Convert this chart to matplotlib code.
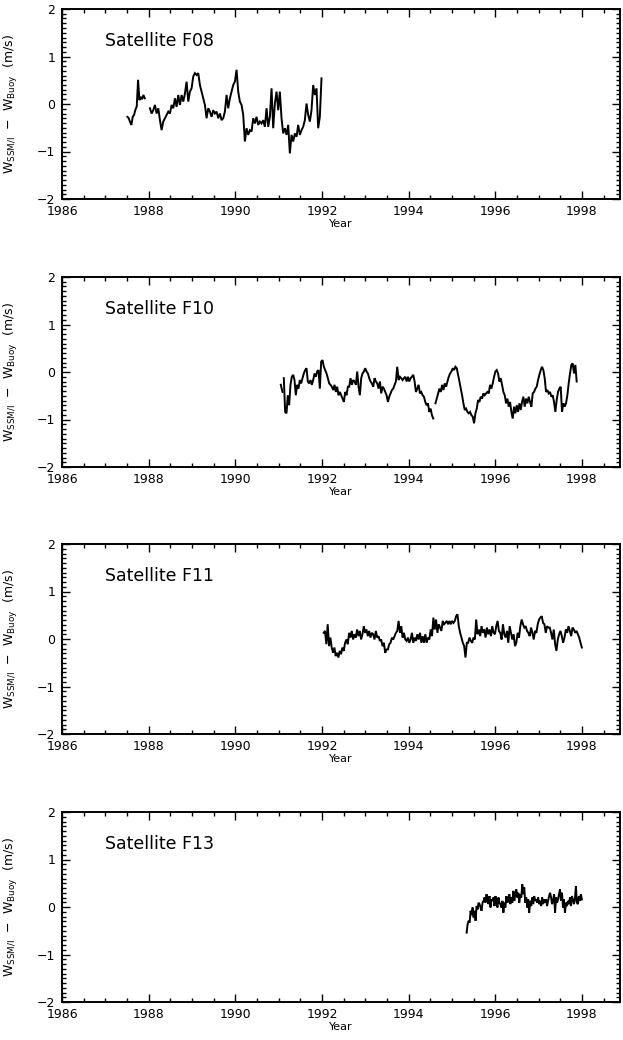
import numpy as np
import matplotlib
matplotlib.use("Agg")
import matplotlib.pyplot as plt
from matplotlib.ticker import MultipleLocator

## data: SSM/I minus buoy wind speed (m/s)
# each segment = (first year, last year) + evenly spaced samples
f08_a_span = (1987.51, 1987.91)
f08_a = [-0.27, -0.30, -0.38, -0.44, -0.27, -0.23, -0.12, -0.05, 0.51, 0.08, 0.15, 0.10, 0.19, 0.12]

f08_b_span = (1988.03, 1991.99)
f08_b = [-0.09, -0.20, -0.13, -0.02, -0.20, -0.09, -0.34, -0.55, -0.37, -0.30,
         -0.23, -0.16, -0.20, -0.02, -0.09, 0.12, -0.06, 0.19, -0.02, 0.19,
         0.05, 0.22, 0.47, 0.05, 0.26, 0.33, 0.58, 0.65, 0.61, 0.65,
         0.40, 0.26, 0.12, -0.02, -0.30, -0.09, -0.16, -0.27, -0.13, -0.20,
         -0.16, -0.30, -0.20, -0.34, -0.30, -0.16, 0.19, -0.09, 0.12, 0.26,
         0.40, 0.47, 0.72, 0.26, 0.05, -0.02, -0.23, -0.79, -0.51, -0.65,
         -0.55, -0.58, -0.30, -0.41, -0.27, -0.44, -0.37, -0.41, -0.34, -0.48,
         -0.09, -0.48, -0.27, 0.33, -0.51, 0.01, 0.26, -0.13, 0.26, -0.30,
         -0.62, -0.51, -0.65, -0.44, -1.04, -0.65, -0.79, -0.62, -0.69, -0.44,
         -0.65, -0.55, -0.48, -0.34, 0.01, -0.23, -0.37, -0.13, 0.40, 0.19,
         0.33, -0.51, -0.27, 0.54]

f10_a_span = (1991.05, 1991.09)
f10_a = [-0.27, -0.42]

f10_b_span = (1991.12, 1994.57)
f10_b = [-0.13, -0.84, -0.87, -0.49, -0.70, -0.27, -0.10, -0.06, -0.17, -0.49,
         -0.27, -0.35, -0.17, -0.24, -0.13, -0.03, 0.04, 0.08, -0.20, -0.24,
         -0.17, -0.27, -0.17, -0.03, -0.10, 0.01, 0.04, -0.35, 0.22, 0.25,
         0.11, 0.04, -0.03, -0.13, -0.24, -0.27, -0.31, -0.38, -0.27, -0.42,
         -0.31, -0.49, -0.42, -0.49, -0.56, -0.63, -0.42, -0.49, -0.31, -0.31,
         -0.13, -0.27, -0.17, -0.20, -0.27, 0.01, -0.31, -0.49, -0.13, -0.03,
         0.01, 0.08, 0.01, -0.03, -0.13, -0.20, -0.24, -0.31, -0.13, -0.20,
         -0.24, -0.35, -0.20, -0.45, -0.31, -0.35, -0.42, -0.49, -0.63, -0.52,
         -0.45, -0.38, -0.35, -0.27, -0.20, 0.11, -0.17, -0.10, -0.13, -0.17,
         -0.13, -0.10, -0.20, -0.10, -0.20, -0.13, -0.10, -0.06, -0.20, -0.42,
         -0.35, -0.27, -0.45, -0.42, -0.49, -0.52, -0.63, -0.70, -0.66, -0.84,
         -0.77, -0.91, -0.98]

f10_c_span = (1994.62, 1997.88)
f10_c = [-0.66, -0.56, -0.45, -0.35, -0.42, -0.27, -0.38, -0.24, -0.31, -0.20,
         -0.10, -0.03, 0.01, 0.08, 0.04, 0.11, 0.08, -0.06, -0.20, -0.35,
         -0.49, -0.66, -0.80, -0.77, -0.84, -0.87, -0.84, -0.91, -0.94, -1.08,
         -0.87, -0.77, -0.59, -0.63, -0.52, -0.56, -0.45, -0.49, -0.45, -0.42,
         -0.45, -0.27, -0.35, -0.24, -0.10, 0.01, 0.04, -0.03, -0.20, -0.13,
         -0.27, -0.42, -0.49, -0.66, -0.56, -0.73, -0.63, -0.84, -0.98, -0.73,
         -0.87, -0.70, -0.84, -0.66, -0.80, -0.63, -0.52, -0.73, -0.56, -0.66,
         -0.52, -0.63, -0.73, -0.45, -0.42, -0.35, -0.31, -0.17, -0.06, 0.04,
         0.11, 0.04, -0.13, -0.42, -0.38, -0.45, -0.42, -0.52, -0.49, -0.63,
         -0.84, -0.59, -0.42, -0.35, -0.31, -0.84, -0.66, -0.73, -0.66, -0.49,
         -0.24, -0.03, 0.15, 0.18, -0.03, 0.15, -0.20]

f11_span = (1992.04, 1998.00)
f11 = [0.13, 0.17, -0.11, 0.31, -0.15, 0.03, -0.18, -0.29, -0.18, -0.36,
       -0.29, -0.39, -0.25, -0.32, -0.18, -0.25, -0.08, -0.01, -0.11, 0.13,
       0.03, 0.17, -0.01, 0.10, 0.03, 0.20, 0.06, 0.17, -0.01, 0.10,
       0.27, 0.13, 0.20, 0.06, 0.17, 0.03, 0.13, 0.10, -0.01, 0.17,
       0.03, 0.06, -0.04, -0.01, -0.15, -0.08, -0.29, -0.22, -0.22, -0.11,
       -0.08, 0.03, -0.01, 0.06, 0.13, 0.17, 0.38, 0.13, 0.27, 0.03,
       0.13, -0.01, -0.04, 0.03, -0.08, -0.01, 0.13, -0.08, 0.03, -0.04,
       0.10, -0.01, 0.13, -0.08, 0.06, -0.08, 0.10, -0.08, 0.03, -0.01,
       0.20, 0.06, 0.45, 0.20, 0.41, 0.13, 0.31, 0.24, 0.17, 0.38,
       0.31, 0.34, 0.38, 0.31, 0.38,
       0.31, 0.38, 0.34, 0.38, 0.48, 0.52, 0.27, 0.13, 0.03, -0.08,
       -0.15, -0.39, -0.08, -0.08, 0.03, -0.04, -0.08, 0.03, -0.01, 0.41,
       0.10, 0.20, 0.06, 0.27, 0.13, 0.20, 0.03, 0.24, 0.10, 0.20,
       0.06, 0.27, 0.13, 0.10, 0.27, 0.38, 0.17, 0.13, -0.01, 0.31,
       0.10, 0.03, 0.17, -0.08, 0.27, 0.13, -0.01, 0.10, -0.15, -0.08,
       0.13, 0.03, 0.27, 0.41, 0.31, 0.24, 0.27, 0.17, 0.13, 0.06,
       0.24, 0.13, -0.01, 0.17, 0.13, 0.31, 0.41, 0.45, 0.48, 0.34,
       0.31, 0.13, 0.27, 0.24, 0.24, 0.13, -0.01, 0.20, -0.11, -0.25,
       -0.01, 0.10, 0.17, 0.06, -0.08, 0.03, 0.20, 0.13, 0.27, 0.17,
       0.06, 0.24, 0.20, 0.13, 0.17, 0.10, 0.03, -0.08, -0.18]

f13_span = (1995.34, 1998.00)
f13 = [-0.54, -0.36, -0.29, -0.33, -0.08, -0.17, -0.01, -0.22, -0.08, -0.29,
       0.02, -0.05, 0.09, 0.06, -0.01, -0.08, 0.09, 0.13, 0.20, 0.09,
       0.27, 0.16, 0.06, 0.23, -0.01, 0.16, 0.13, 0.20, 0.02, 0.23,
       0.13, -0.01, 0.20, 0.09, 0.06, -0.01, 0.13, -0.12, 0.09, -0.01,
       0.23, 0.09, 0.16, 0.27, 0.06, 0.20, 0.09, 0.34, 0.13, 0.27,
       0.37, 0.20, 0.30, 0.09, 0.27, 0.20, 0.48, 0.27, 0.41, 0.09,
       0.20, -0.01, 0.16, -0.12, 0.13, 0.02, 0.20, 0.06, 0.23, 0.13,
       0.16, 0.09, 0.20, 0.06, 0.13, 0.02, 0.20, 0.06, 0.16, 0.09,
       0.16, 0.02, 0.13, 0.23, 0.30, 0.20, 0.06, 0.13, 0.27, -0.12,
       0.20, 0.09, 0.16, 0.27, 0.37, 0.13, 0.30, -0.01, 0.16, -0.12,
       0.09, 0.02, 0.13, 0.06, 0.20, 0.02, 0.23, 0.16, 0.06, 0.16,
       0.44, 0.09, 0.06, 0.23, 0.13, 0.27, 0.16]

satellites = ["Satellite F08", "Satellite F10", "Satellite F11", "Satellite F13"]
segments = [
    [(f08_a_span, f08_a), (f08_b_span, f08_b)],
    [(f10_a_span, f10_a), (f10_b_span, f10_b), (f10_c_span, f10_c)],
    [(f11_span, f11)],
    [(f13_span, f13)],
]

## figure
W, H = 623, 1040
fig = plt.figure(figsize=(W / 100, H / 100), dpi=100)
plt.rcParams['font.family'] = ['DejaVu Sans']

left, right = 62, 620
tops = [9, 277, 544, 812]
height = 190

for name, segs, top in zip(satellites, segments, tops):
    ax = fig.add_axes([left / W, 1 - (top + height) / H, (right - left) / W, height / H])
    for (t0, t1), vals in segs:
        t = np.linspace(t0, t1, len(vals))
        ax.plot(t, vals, color='black', lw=1.4, solid_joinstyle='miter')

    ax.set_xlim(1986, 1998.88)
    ax.set_ylim(-2, 2)
    ax.xaxis.set_major_locator(MultipleLocator(2))
    ax.xaxis.set_minor_locator(MultipleLocator(0.5))
    ax.yaxis.set_major_locator(MultipleLocator(1))
    ax.yaxis.set_minor_locator(MultipleLocator(0.1))
    ax.tick_params(which='both', direction='in', top=True, right=True, width=1.0)
    ax.tick_params(which='major', length=6, labelsize=9)
    ax.tick_params(axis='x', which='major', pad=4)
    ax.tick_params(axis='y', which='major', pad=5)
    ax.tick_params(which='minor', length=3)
    for sp in ax.spines.values():
        sp.set_linewidth(1.4)

    ax.set_xlabel("Year", fontsize=8, labelpad=1)
    ax.set_ylabel(r"W$_{\mathregular{SSM/I}}$  $-$  W$_{\mathregular{Buoy}}$  (m/s)", fontsize=9)
    ax.yaxis.set_label_coords(-0.075, 0.5)
    ax.text(0.077, 0.83, name, transform=ax.transAxes, fontsize=12.5, va='center', ha='left')

fig.savefig("out.png", dpi=100)
